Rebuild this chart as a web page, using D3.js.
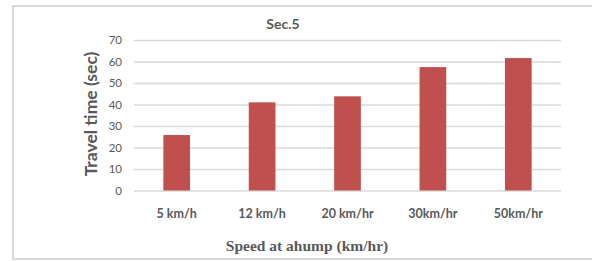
<!DOCTYPE html>
<html>
<head>
<meta charset="utf-8">
<script src="https://cdn.jsdelivr.net/npm/d3@7"></script>
<style>
	html, body { margin: 0; padding: 0; background: #fff; }
	svg { display: block; }
</style>
</head>
<body>
<div id="chart"></div>
<script>
// Chart data
const categories = ["5 km/h", "12 km/h", "20 km/hr", "30km/hr", "50km/hr"];
const travelTime = [25.8, 41.0, 43.8, 57.4, 61.6];
const yTicks = [0, 10, 20, 30, 40, 50, 60, 70];

const width = 592, height = 261;
const plot = { left: 134, right: 561, top: 40, bottom: 190.5 };

const svg = d3.select("#chart").append("svg")
	.attr("width", width)
	.attr("height", height);

// outer frame (no right edge visible in the picture)
svg.append("path")
	.attr("d", `M${width},6 H13 V259 H${width}`)
	.attr("fill", "none")
	.attr("stroke", "#d9d9d9")
	.attr("stroke-width", 2);

const x = d3.scaleBand()
	.domain(categories)
	.range([plot.left, plot.right])
	.paddingInner(0.6875)
	.paddingOuter(0.34375);

const y = d3.scaleLinear()
	.domain([0, 70])
	.range([plot.bottom, plot.top]);

// gridlines + y labels
const yAxis = svg.append("g")
	.attr("transform", `translate(${plot.left},0)`)
	.call(d3.axisLeft(y).tickValues(yTicks).tickSize(-(plot.right - plot.left)).tickPadding(12));
yAxis.select(".domain").remove();
yAxis.selectAll(".tick line")
	.attr("stroke", "#d9d9d9")
	.attr("stroke-width", 1.5);
yAxis.selectAll(".tick text")
	.attr("fill", "#595959")
	.style("font-family", "Lato, 'Open Sans', sans-serif")
	.style("font-size", "11.5px");

// bars
svg.append("g").selectAll("rect")
	.data(travelTime)
	.join("rect")
	.attr("x", (d, i) => x(categories[i]))
	.attr("y", d => y(d))
	.attr("width", x.bandwidth())
	.attr("height", d => y(0) - y(d))
	.attr("fill", "#c0504d");

// x category labels
const xAxis = svg.append("g")
	.attr("transform", `translate(0,${plot.bottom})`)
	.call(d3.axisBottom(x).tickSize(0).tickPadding(19));
xAxis.select(".domain").remove();
xAxis.selectAll(".tick text")
	.attr("fill", "#595959")
	.style("font-family", "Lato, 'Open Sans', sans-serif")
	.style("font-weight", "bold")
	.style("font-size", "12.5px");

// title
svg.append("text")
	.attr("x", 283)
	.attr("y", 29)
	.attr("text-anchor", "middle")
	.attr("fill", "#595959")
	.style("font-family", "Lato, 'Open Sans', sans-serif")
	.style("font-weight", "bold")
	.style("font-size", "14px")
	.text("Sec.5");

// y axis title
svg.append("text")
	.attr("transform", "translate(97,114) rotate(-90)")
	.attr("text-anchor", "middle")
	.attr("fill", "#595959")
	.style("font-family", "Lato, 'Open Sans', sans-serif")
	.style("font-weight", "bold")
	.style("font-size", "17.5px")
	.text("Travel time (sec)");

// x axis title
svg.append("text")
	.attr("x", 307)
	.attr("y", 251)
	.attr("text-anchor", "middle")
	.attr("fill", "#595959")
	.style("font-family", "'Liberation Serif', 'DejaVu Serif', serif")
	.style("font-weight", "bold")
	.style("font-size", "15.5px")
	.text("Speed at ahump (km/hr)");
</script>
</body>
</html>
